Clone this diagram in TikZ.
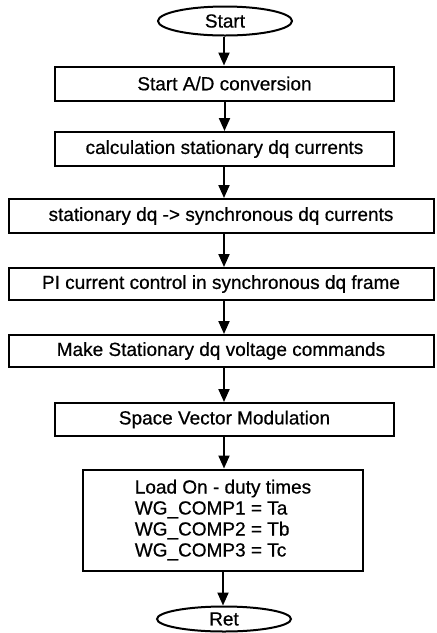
\documentclass[tikz,border=0pt]{standalone}
\usepackage{fontspec}
\setmainfont{Liberation Sans}[FakeBold=0.6]
\usetikzlibrary{arrows.meta,shapes.geometric}
\begin{document}
\begin{tikzpicture}[x=1pt,y=-1pt,
  every node/.style={font=\fontsize{19}{21}\selectfont, inner sep=0pt},
  term/.style={ellipse, draw, line width=2pt, minimum width=134pt, minimum height=29pt},
  proc/.style={rectangle, draw, line width=2pt, minimum height=34pt},
  wide/.style={proc, minimum width=339pt},
  wider/.style={proc, minimum width=425pt},
  flow/.style={line width=2pt, -{Triangle[length=13pt,width=11pt]}}
]
\useasboundingbox (0,0) rectangle (437,633);
\node[term] (start) at (225,21) {Start};
\node[wide] (ad) at (224.5,83.5) {Start A/D conversion};
\node[wide] (calc) at (224.5,149) {calculation stationary dq currents};
\node[wider] (conv) at (221,216) {stationary dq -> synchronous dq currents};
\node[wider, minimum height=32pt] (pi) at (221,284) {PI current control in synchronous dq frame};
\node[wider, minimum height=32pt] (vcmd) at (221,351) {Make Stationary dq voltage commands};
\node[wide, minimum height=33pt] (svm) at (224.5,419.5) {Space Vector Modulation};
\node[proc, minimum width=280pt, minimum height=101pt, align=left] (load) at (223,520)
  {Load On - duty times\\WG\_COMP1 = Ta\\WG\_COMP2 = Tb\\WG\_COMP3 = Tc};
\node[term, minimum height=25pt] (ret) at (224,619) {Ret};
\draw[flow] (start.south -| ad.north) ++(-0.5,0) coordinate (s0) -- (ad.north -| s0);
\draw[flow] (ad) -- (calc);
\draw[flow] (calc.south) ++(-0.5,0) coordinate (s2) -- (conv.north -| s2);
\draw[flow] (conv.south -| calc.south) ++(-0.5,0) coordinate (s3) -- (pi.north -| s3);
\draw[flow] (pi.south -| calc.south) ++(-0.5,0) coordinate (s4) -- (vcmd.north -| s4);
\draw[flow] (vcmd.south -| svm.north) ++(-0.5,0) coordinate (s5) -- (svm.north -| s5);
\draw[flow] (svm.south) ++(-0.5,0) coordinate (s6) -- (load.north -| s6);
\draw[flow] (load.south) coordinate (s7) -- (ret.north -| s7);
\end{tikzpicture}
\end{document}
